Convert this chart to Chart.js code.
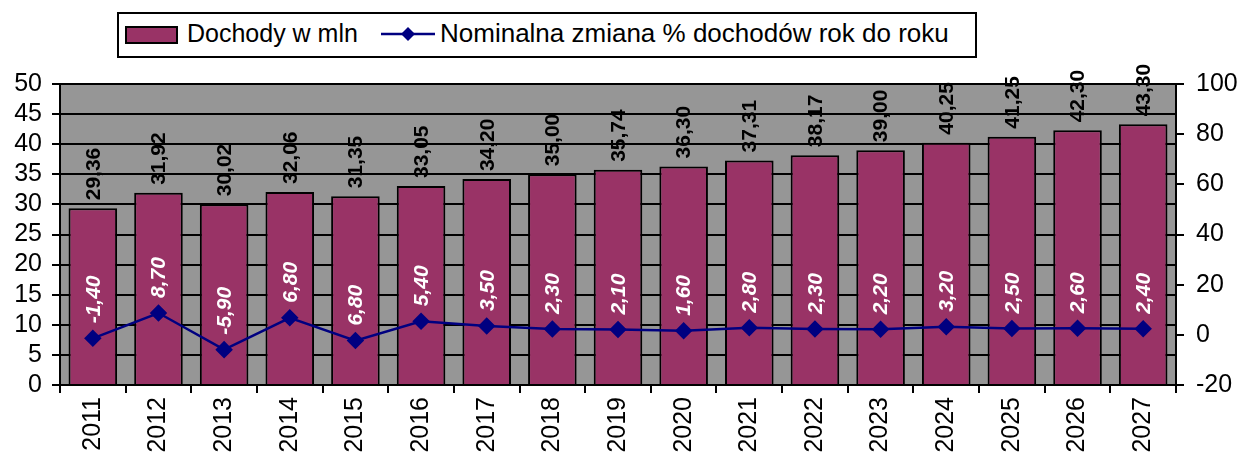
<!DOCTYPE html>
<html>
<head>
<meta charset="utf-8">
<script src="https://cdn.jsdelivr.net/npm/chart.js@4/dist/chart.umd.min.js"></script>
<style>
  body { margin: 0; background: #fff; }
  #wrap { position: relative; width: 1244px; height: 464px; }
  #wykres { position: absolute; left: 0; top: 0; }
  #legenda {
    position: absolute; left: 117px; top: 12px; width: 856px; height: 42px;
    border: 2px solid #000; background: #fff;
    font-family: Arial, "Liberation Sans", sans-serif; font-size: 25px; color: #000;
  }
  #legenda span, #legenda svg { position: absolute; }
  .pole { left: 6px; top: 12px; width: 49px; height: 14px; background: #993366; border: 2px solid #000; }
  .txt { top: 4px; line-height: 30px; white-space: nowrap; }
</style>
</head>
<body>
<div id="wrap">
  <canvas id="wykres" width="1244" height="464"></canvas>
  <div id="legenda">
    <span class="pole"></span>
    <span class="txt" style="left:68px">Dochody w mln</span>
    <svg style="left:262px;top:8px" width="54" height="24">
      <line x1="0" y1="12" x2="54" y2="12" stroke="#000080" stroke-width="2.5"/>
      <polygon points="27,5 34,12 27,19 20,12" fill="#000080"/>
    </svg>
    <span class="txt" style="left:321px;font-size:26px">Nominalna zmiana % dochodów rok do roku</span>
  </div>
</div>
<script>
/* ------------------
  dane
-------------------*/
var lata = ['2011', '2012', '2013', '2014', '2015', '2016', '2017', '2018', '2019',
            '2020', '2021', '2022', '2023', '2024', '2025', '2026', '2027'];
var dochody = [29.36, 31.92, 30.02, 32.06, 31.35, 33.05, 34.20, 35.00, 35.74,
               36.30, 37.31, 38.17, 39.00, 40.25, 41.25, 42.30, 43.30];
// wartosci punktow na prawej osi (2015 narysowany nizej niz opis w zrodle)
var zmiana = [-1.4, 8.7, -5.9, 6.8, -2.3, 5.4, 3.5, 2.3, 2.1,
              1.6, 2.8, 2.3, 2.2, 3.2, 2.5, 2.6, 2.4];
var zmianaOpisy = ['-1,40', '8,70', '-5,90', '6,80', '6,80', '5,40', '3,50', '2,30', '2,10',
                   '1,60', '2,80', '2,30', '2,20', '3,20', '2,50', '2,60', '2,40'];
var lewaOs = [0, 5, 10, 15, 20, 25, 30, 35, 40, 45, 50];
var prawaOs = [-20, 0, 20, 40, 60, 80, 100];

var czcionka = 'Arial, "Liberation Sans", sans-serif';

function zPrzecinkiem(x) {
  return x.toFixed(2).replace('.', ',');
}

/* ------------------
  tlo obszaru wykresu
-------------------*/
var tlo = {
  id: 'tlo',
  beforeDraw: function (chart) {
    var a = chart.chartArea;
    chart.ctx.save();
    chart.ctx.fillStyle = '#969696';
    chart.ctx.fillRect(a.left, a.top, a.right - a.left, a.bottom - a.top);
    chart.ctx.restore();
  }
};

/* ------------------
  etykiety danych (obrocone)
-------------------*/
var etykiety = {
  id: 'etykiety',
  afterDatasetsDraw: function (chart) {
    var ctx = chart.ctx;
    var slupki = chart.getDatasetMeta(0).data;
    var punkty = chart.getDatasetMeta(1).data;
    ctx.save();
    ctx.textAlign = 'left';
    ctx.textBaseline = 'middle';
    slupki.forEach(function (el, i) {
      ctx.save();
      ctx.translate(el.x + 1, el.y - 8);
      ctx.rotate(-Math.PI / 2);
      ctx.font = 'bold 21px ' + czcionka;
      ctx.fillStyle = '#000';
      ctx.fillText(zPrzecinkiem(dochody[i]), 0, 0);
      ctx.restore();
    });
    punkty.forEach(function (el, i) {
      ctx.save();
      ctx.translate(el.x + 1, el.y - 15);
      ctx.rotate(-Math.PI / 2);
      ctx.font = 'italic bold 21px ' + czcionka;
      ctx.fillStyle = '#fff';
      ctx.fillText(zmianaOpisy[i], 0, 0);
      ctx.restore();
    });
    ctx.restore();
  }
};

var wykres = new Chart(document.getElementById('wykres'), {
  data: {
    labels: lata,
    datasets: [
      {
        type: 'bar',
        label: 'Dochody w mln',
        data: dochody,
        yAxisID: 'y',
        backgroundColor: '#993366',
        borderColor: '#000',
        borderWidth: 2,
        barPercentage: 0.74,
        categoryPercentage: 1.0,
        order: 2
      },
      {
        type: 'line',
        label: 'Nominalna zmiana % dochodów rok do roku',
        data: zmiana,
        yAxisID: 'y2',
        borderColor: '#000080',
        backgroundColor: '#000080',
        borderWidth: 2.5,
        pointStyle: 'rectRot',
        pointRadius: 7,
        tension: 0,
        order: 1
      }
    ]
  },
  options: {
    responsive: false,
    animation: false,
    layout: { padding: { top: 84 } },
    plugins: {
      legend: { display: false },
      tooltip: { enabled: false }
    },
    scales: {
      x: {
        grid: { offset: true, drawOnChartArea: false, color: '#000', lineWidth: 2, tickLength: 8 },
        border: { color: '#000', width: 2 },
        ticks: { minRotation: 90, maxRotation: 90, autoSkip: false, color: '#000', padding: 4,
                 font: { family: czcionka, size: 25 } },
        afterFit: function (s) { s.height = 79; }
      },
      y: {
        position: 'left',
        min: lewaOs[0],
        max: lewaOs[lewaOs.length - 1],
        afterBuildTicks: function (s) { s.ticks = lewaOs.map(function (v) { return { value: v }; }); },
        grid: { color: '#000', lineWidth: 2, tickLength: 8 },
        border: { color: '#000', width: 2 },
        ticks: { autoSkip: false, color: '#000', padding: 10, font: { family: czcionka, size: 25 } },
        afterFit: function (s) { s.width = 60; }
      },
      y2: {
        position: 'right',
        min: prawaOs[0],
        max: prawaOs[prawaOs.length - 1],
        afterBuildTicks: function (s) { s.ticks = prawaOs.map(function (v) { return { value: v }; }); },
        grid: { drawOnChartArea: false, color: '#000', lineWidth: 2, tickLength: 8 },
        border: { color: '#000', width: 2 },
        ticks: { autoSkip: false, color: '#000', padding: 12, font: { family: czcionka, size: 25 } },
        afterFit: function (s) { s.width = 68; }
      }
    }
  },
  plugins: [tlo, etykiety]
});
</script>
</body>
</html>
